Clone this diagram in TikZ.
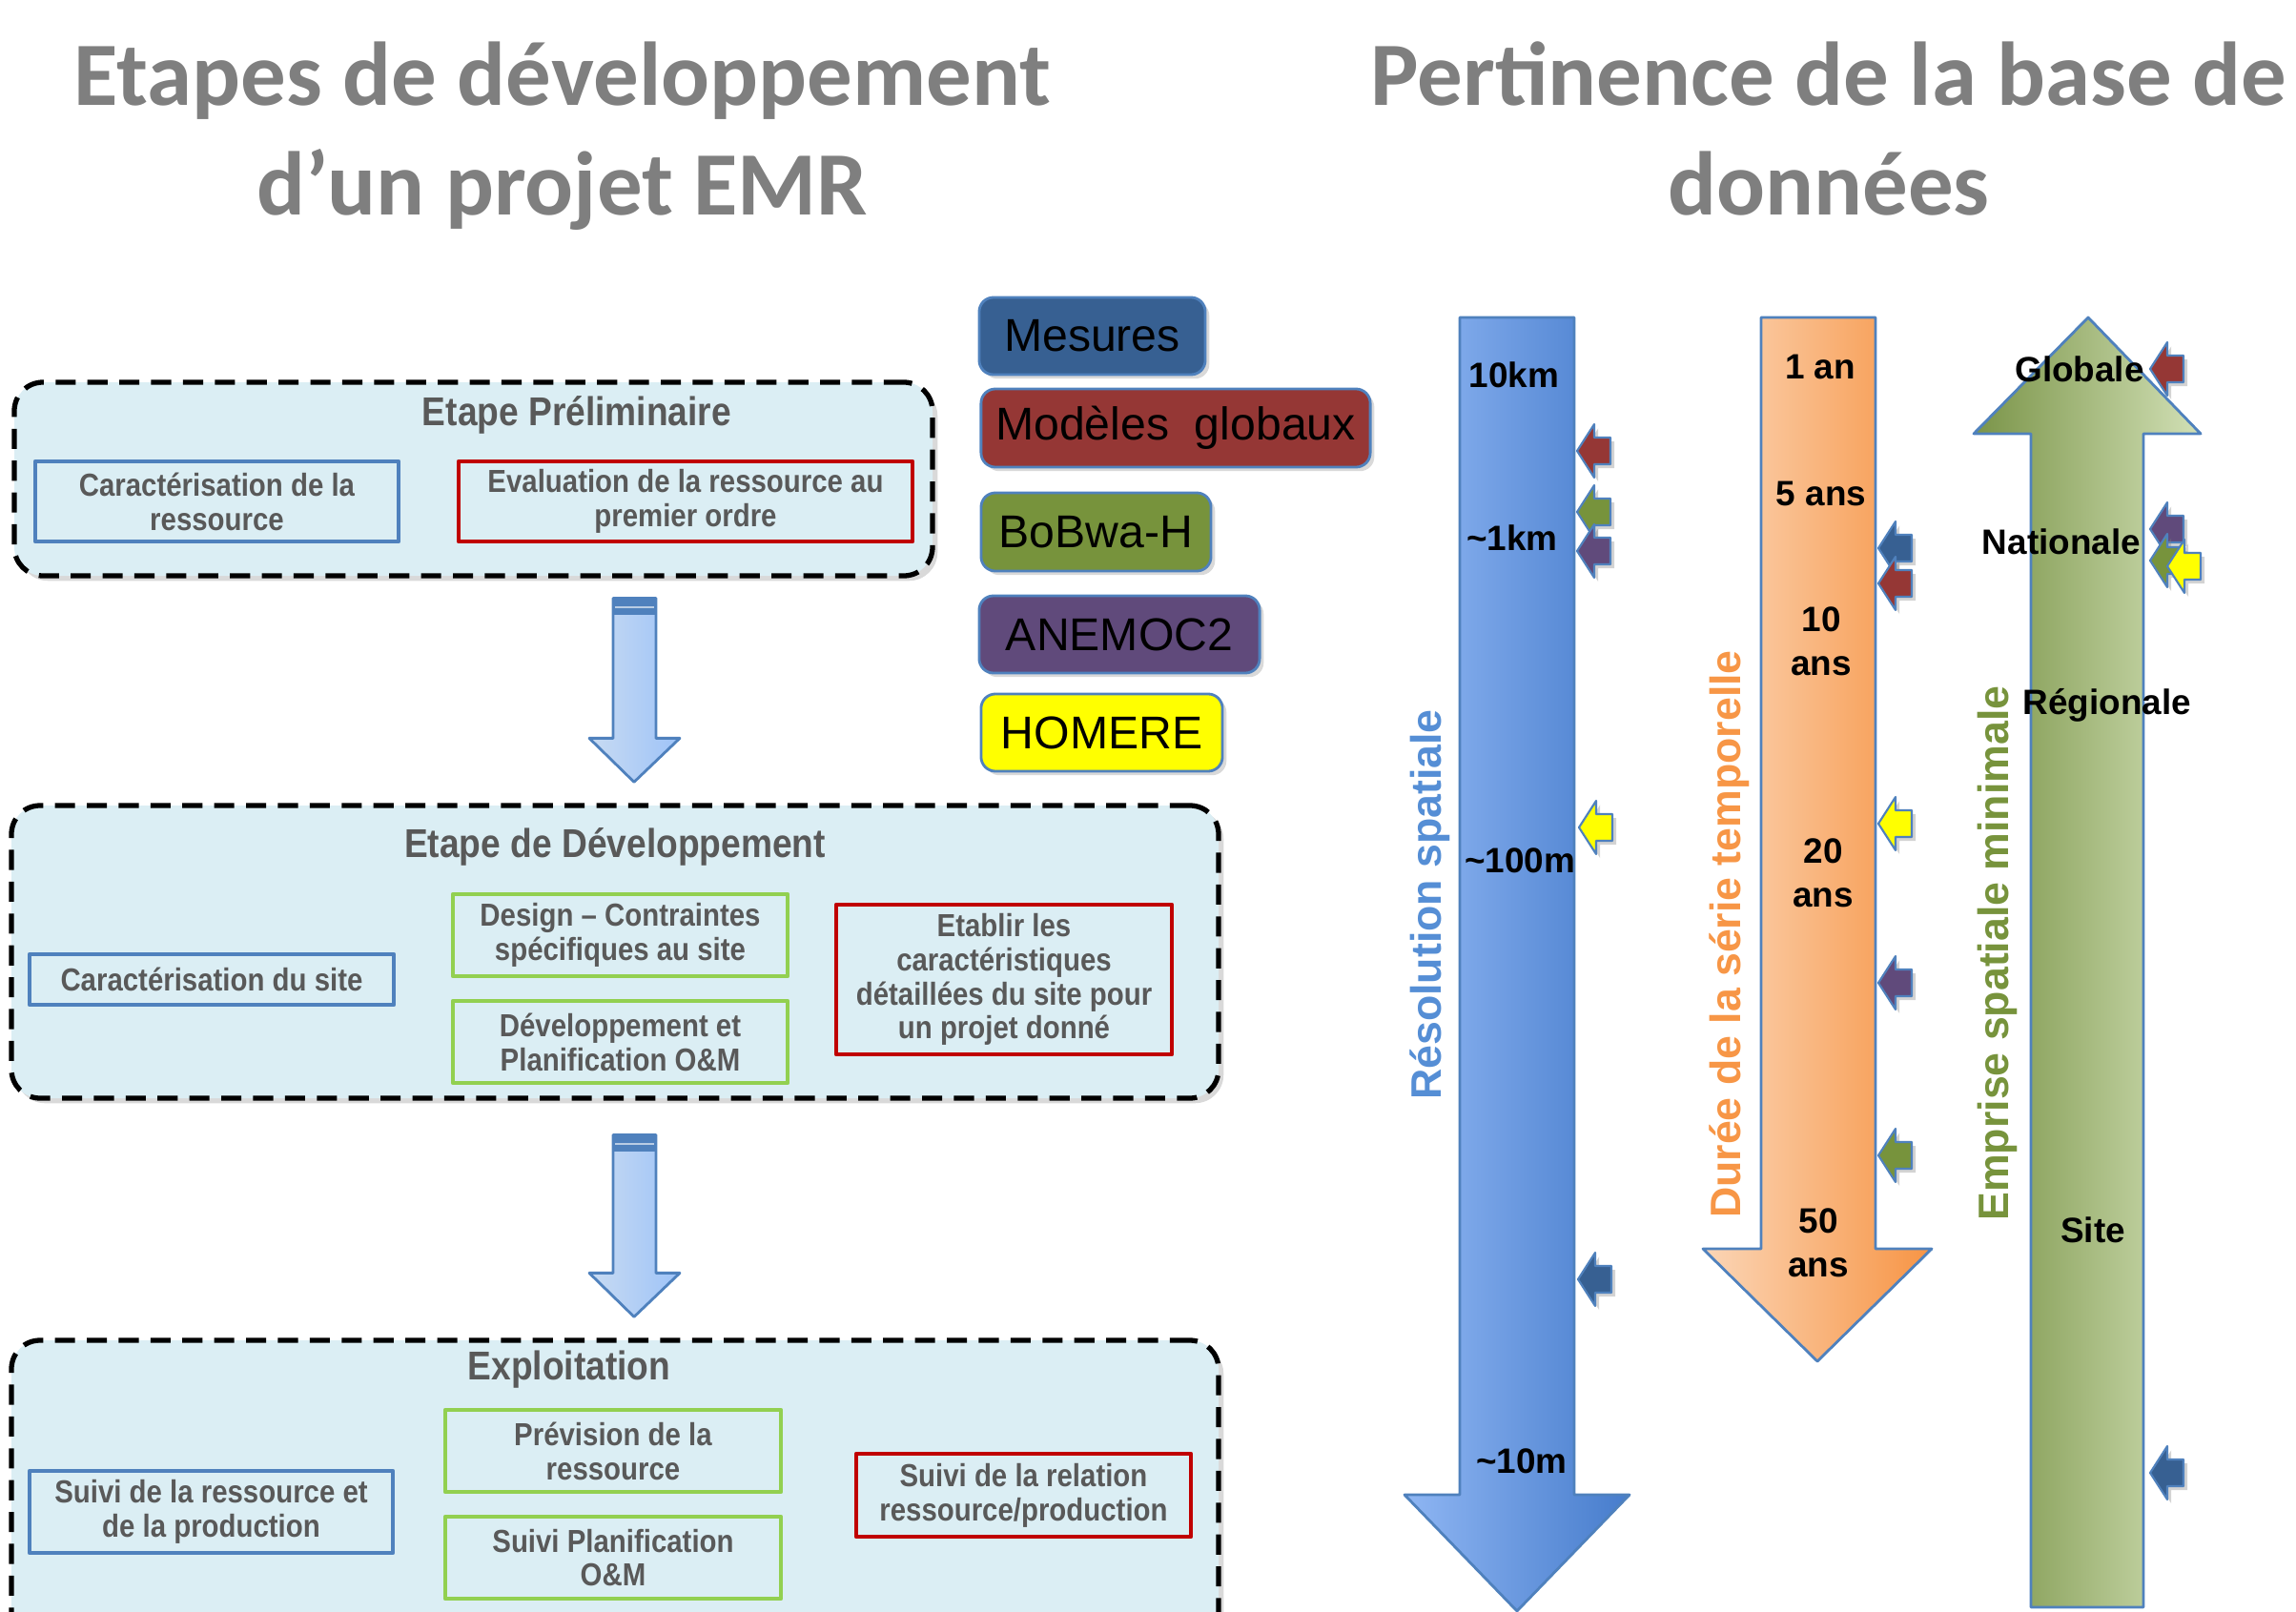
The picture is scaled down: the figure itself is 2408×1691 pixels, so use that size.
\documentclass[tikz,border=0pt]{standalone}
\usepackage{fontspec}
\setmainfont{Liberation Sans}
\newfontfamily\titlefont{Carlito}
\newfontfamily\narrowfont[FakeStretch=0.88]{Liberation Sans}
\usetikzlibrary{calc}
\usetikzlibrary{fit}
\usetikzlibrary{shadows}

\definecolor{titlegray}{RGB}{127,127,127}
\definecolor{textgray}{RGB}{89,89,89}
\definecolor{stagefill}{RGB}{219,238,244}
\definecolor{edgeblue}{RGB}{79,129,189}
\definecolor{boxred}{RGB}{192,0,0}
\definecolor{boxgreen}{RGB}{146,208,80}
\definecolor{mesures}{RGB}{55,96,146}
\definecolor{modeles}{RGB}{149,55,53}
\definecolor{bobwa}{RGB}{119,147,60}
\definecolor{anemoc}{RGB}{96,74,123}
\definecolor{homere}{RGB}{255,255,0}
\definecolor{reslabel}{RGB}{85,142,213}
\definecolor{durlabel}{RGB}{247,150,70}

\tikzset{
  maintitle/.style = {anchor = base, text = titlegray,
    font = \titlefont\bfseries\fontsize{27}{32}\selectfont},
  stage/.style = {draw, line width = 1.5pt, dash pattern = on 6pt off 3.5pt,
    rounded corners = 0.3cm, fill = stagefill, inner sep = 0pt,
    drop shadow = {opacity = 0.3, shadow xshift = 1.5pt, shadow yshift = -1.5pt}},
  stagetitle/.style = {text = textgray,
    font = \narrowfont\bfseries\fontsize{12}{14}\selectfont},
  task/.style = {draw, line width = 1.2pt, inner sep = 0pt, align = center,
    minimum height = 0.86cm, text = textgray,
    font = \narrowfont\bfseries\fontsize{9.5}{10.2}\selectfont},
  legendbox/.style = {draw = edgeblue, line width = 0.8pt, rounded corners = 0.15cm,
    inner sep = 0pt, minimum height = 0.81cm, font = \fontsize{13.7}{16}\selectfont,
    drop shadow = {opacity = 0.3, shadow xshift = 1.2pt, shadow yshift = -1.2pt}},
  ticklabel/.style = {align = center, font = \bfseries\fontsize{10.5}{13}\selectfont},
  axistitle/.style = {rotate = 90, font = \bfseries\fontsize{12.7}{15}\selectfont},
  stagearrowfill/.style = {draw = edgeblue, line width = 0.8pt,
    left color = {rgb,255:red,200;green,219;blue,242},
    right color = {rgb,255:red,158;green,195;blue,248}},
  bigarrow/.style = {draw = edgeblue, line width = 0.8pt}
}

\newcommand{\stagearrow}[3]{
  \coordinate (arrtop) at ($(665, 0 |- #1.south) + (0, #3)$);
  \coordinate (arrtip) at ($(665, 0 |- #2.north) + (0, -22)$);
  \draw[stagearrowfill] ($(arrtop) + (-22, 0)$) -- ($(arrtop) + (23, 0)$)
    -- ($(arrtip) + (23, -46)$) -- ($(arrtip) + (48, -46)$) -- (arrtip)
    -- ($(arrtip) + (-47, -46)$) -- ($(arrtip) + (-22, -46)$) -- cycle;
  \fill[edgeblue] ($(arrtop) + (-22, 0)$) rectangle ($(arrtop) + (23, 17)$);
  \draw[white, line width = 0.5pt, opacity = 0.6]
    ($(arrtop) + (-20, 9)$) -- ($(arrtop) + (21, 9)$);}

\newcommand{\pointer}[3]{
  \draw[fill = #3, draw = edgeblue, line width = 0.6pt,
    drop shadow = {opacity = 0.35, shadow xshift = 1.2pt, shadow yshift = -1.2pt}]
    (#1, #2) -- ++(18, -28) -- ++(0, 14) -- ++(17, 0) -- ++(0, 28)
    -- ++(-17, 0) -- ++(0, 14) -- cycle;}

\begin{document}
\begin{tikzpicture}[x = 0.01cm, y = -0.01cm, line join = round]
  \useasboundingbox (0, 0) rectangle (2408, 1691);
  \clip (0, 0) rectangle (2408, 1691);

  \node[maintitle] (titleleft) at (590, 111) {Etapes de développement};
  \node[maintitle] (titleleft2) at (590, 226) {d’un projet EMR};
  \node[maintitle] (titleright) at (1918, 111) {Pertinence de la base de};
  \node[maintitle] (titleright2) at (1918, 226) {données};

  % etapes
  \node[stage, fit = {(15, 401) (978, 604)}] (prelim) {};
  \node[stage, fit = {(12, 845) (1278, 1152)}] (devel) {};
  \node[stage, fit = {(12, 1406) (1278, 1740)}] (exploit) {};

  \node[stagetitle] (prelimtitle) at (605, 435) {Etape Préliminaire};
  \node[task, draw = edgeblue, minimum width = 3.81cm, minimum height = 0.84cm]
    (caracres) at (227.5, 526) {Caractérisation de la\\ressource};
  \node[task, draw = boxred, minimum width = 4.76cm, minimum height = 0.84cm]
    (evalres) at (719, 526) {Evaluation de la ressource au\\premier ordre};

  \node[stagetitle] (develtitle) at (645, 888) {Etape de Développement};
  \node[task, draw = edgeblue, minimum width = 3.82cm, minimum height = 0.53cm]
    (caracsite) at (222, 1027.5) {Caractérisation du site};
  \node[task, draw = boxgreen, minimum width = 3.51cm]
    (design) at (650.5, 981) {Design – Contraintes\\spécifiques au site};
  \node[task, draw = boxgreen, minimum width = 3.51cm]
    (planif) at (650.5, 1093) {Développement et\\Planification O\&M};
  \node[task, draw = boxred, minimum width = 3.52cm, minimum height = 1.57cm]
    (etablir) at (1053, 1027.5)
    {Etablir les\\caractéristiques\\détaillées du site pour\\un projet donné};

  \node[stagetitle] (exploittitle) at (597, 1437) {Exploitation};
  \node[task, draw = edgeblue, minimum width = 3.81cm]
    (suivires) at (221.5, 1586) {Suivi de la ressource et\\de la production};
  \node[task, draw = boxgreen, minimum width = 3.52cm]
    (prevision) at (643, 1522) {Prévision de la\\ressource};
  \node[task, draw = boxgreen, minimum width = 3.52cm]
    (suiviom) at (643, 1634) {Suivi Planification\\O\&M};
  \node[task, draw = boxred, minimum width = 3.51cm, minimum height = 0.87cm]
    (relation) at (1073.5, 1568.5) {Suivi de la relation\\ressource/production};

  \stagearrow{prelim}{devel}{21}
  \stagearrow{devel}{exploit}{36}

  % legende
  \node[legendbox, fill = mesures, minimum width = 2.37cm]
    (mesuresbox) at (1145.5, 352.5) {Mesures};
  \node[legendbox, fill = modeles, minimum width = 4.08cm, minimum height = 0.82cm]
    (modelesbox) at (1233, 449) {Modèles\ \ globaux};
  \node[legendbox, fill = bobwa, minimum width = 2.41cm, minimum height = 0.82cm]
    (bobwabox) at (1149.5, 558) {BoBwa-H};
  \node[legendbox, fill = anemoc, minimum width = 2.94cm]
    (anemocbox) at (1174, 665.5) {ANEMOC2};
  \node[legendbox, fill = homere, minimum width = 2.53cm]
    (homerebox) at (1155.5, 768.5) {HOMERE};

  % axes
  \draw[bigarrow, left color = {rgb,255:red,143;green,182;blue,243},
    right color = {rgb,255:red,70;green,124;blue,204}]
    (1531, 333) -- (1651, 333) -- (1651, 1568) -- (1709, 1568) -- (1591, 1690)
    -- (1473, 1568) -- (1531, 1568) -- cycle;
  \draw[bigarrow, left color = {rgb,255:red,251;green,214;blue,183},
    right color = {rgb,255:red,247;green,148;blue,68}]
    (1847, 333) -- (1967, 333) -- (1967, 1310) -- (2026, 1310) -- (1906, 1428)
    -- (1786, 1310) -- (1847, 1310) -- cycle;
  \draw[bigarrow, left color = {rgb,255:red,122;green,148;blue,72},
    right color = {rgb,255:red,210;green,224;blue,182}]
    (2190, 333) -- (2308, 455) -- (2248, 455) -- (2248, 1686) -- (2130, 1686)
    -- (2130, 455) -- (2070, 455) -- cycle;

  \node[ticklabel] (res10km) at (1588, 393) {10km};
  \node[ticklabel] (res1km) at (1586, 564) {\textasciitilde1km};
  \node[ticklabel] (res100m) at (1594, 903) {\textasciitilde100m};
  \node[ticklabel] (res10m) at (1596, 1533) {\textasciitilde10m};

  \node[ticklabel] (dur1) at (1909, 385) {1 an};
  \node[ticklabel] (dur5) at (1910, 518) {5 ans};
  \node[ticklabel] (dur10) at (1910, 673) {10\\ans};
  \node[ticklabel] (dur20) at (1912, 916) {20\\ans};
  \node[ticklabel] (dur50) at (1907, 1304) {50\\ans};

  \node[ticklabel] (empglob) at (2181, 387) {Globale};
  \node[ticklabel] (empnat) at (2162, 568) {Nationale};
  \node[ticklabel] (empreg) at (2210, 740) {Régionale};
  \node[ticklabel] (empsite) at (2195, 1290) {Site};

  \node[axistitle, text = reslabel] (resaxis) at (1500, 949) {Résolution spatiale};
  \node[axistitle, text = durlabel] (duraxis) at (1814, 980) {Durée de la série temporelle};
  \node[axistitle, text = bobwa] (empaxis) at (2095, 1000) {Emprise spatiale minimale};

  % pertinence des bases
  \foreach \px/\py/\pc in {1654/473/modeles, 1654/537/bobwa, 1654/578/anemoc,
      1656/868/homere, 1655/1342/mesures,
      1970/575/mesures, 1970/612/modeles, 1970/864/homere, 1970/1031/anemoc,
      1970/1212/bobwa,
      2255/387/modeles, 2255/555/anemoc, 2255/588/bobwa, 2273/594/homere,
      2255/1545/mesures}
    {\pointer{\px}{\py}{\pc}}
\end{tikzpicture}
\end{document}
